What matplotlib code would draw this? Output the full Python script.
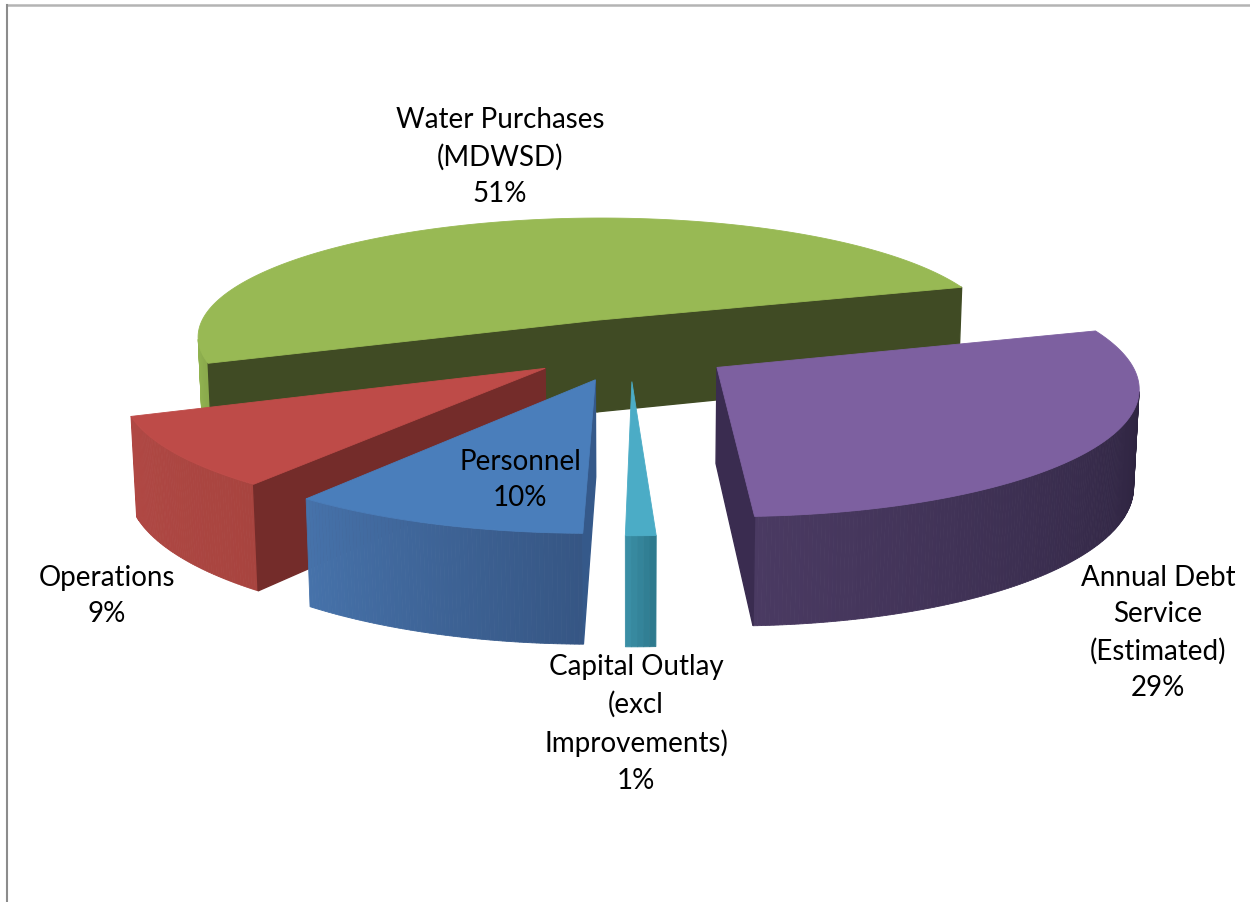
import numpy as np
import matplotlib.pyplot as plt
from matplotlib.patches import Polygon
from matplotlib.lines import Line2D

# ---------------------------------------------------------------------------
# DATA
categories = ["Water Purchases\n(MDWSD)",
              "Annual Debt\nService\n(Estimated)",
              "Capital Outlay\n(excl\nImprovements)",
              "Personnel",
              "Operations"]
shares = [51, 29, 1, 10, 9]

# ---------------------------------------------------------------------------
# STYLE
top_colors = ["#98B954", "#7D60A0", "#4BACC6", "#4A7EBB", "#BE4B48"]
side_colors = [("#93B551", "#8AAA4C"), ("#4A3A62", "#2E2440"),
               ("#3A8EA5", "#2E7A8E"), ("#4672AA", "#365684"),
               ("#B04844", "#A8443F")]
cut_colors = ["#404B24", "#3A2C50", "#2B6F82", "#35598A", "#742C2A"]
label_pos = [(500, 157), (1158, 633), (636, 724), (520, 480), (107, 596)]

first_edge = 200.8      # math angle where the first slice starts (clockwise)
explode = 0.255
elev = np.radians(17.6)
dist = 7.0
scale = 408
cx, cy = 630, 350
depth = 0.245

cam = np.array([0, -dist * np.cos(elev), dist * np.sin(elev)])


def proj(x, y, z):
    yp = y * np.sin(elev) + z * np.cos(elev)
    d = y * np.cos(elev) - z * np.sin(elev)
    s = dist / (dist + d)
    return cx + scale * x * s, cy - scale * yp * s


def facing(normal, point):
    return np.dot(normal, cam - np.asarray(point)) > 0


def mix(c1, c2, t):
    a = np.array(plt.matplotlib.colors.to_rgb(c1))
    b = np.array(plt.matplotlib.colors.to_rgb(c2))
    return tuple(a + (b - a) * t)


fig = plt.figure(figsize=(12.5, 9.03), dpi=100)
ax = fig.add_axes([0, 0, 1, 1])
ax.set_xlim(0, 1250)
ax.set_ylim(903, 0)
ax.axis("off")

# slice angles, clockwise from first_edge
bounds = []
cum = 0
for v in shares:
    hi = first_edge - cum * 3.6
    lo = hi - v * 3.6
    bounds.append((lo, hi))
    cum += v

slices = []
for i, (lo, hi) in enumerate(bounds):
    mid = np.radians((lo + hi) / 2)
    ox, oy = explode * np.cos(mid), explode * np.sin(mid)
    cdep = (oy + 0.5 * np.sin(mid)) * np.cos(elev)
    slices.append((cdep, i, lo, hi, ox, oy))

# back to front
slices.sort(key=lambda s: -s[0])

for cdep, i, lo, hi, ox, oy in slices:
    th = np.radians(np.linspace(lo, hi, max(int(hi - lo) * 2, 4)))
    ax_ = ox + np.cos(th)
    ay_ = oy + np.sin(th)

    # outer curved side, shaded left to right
    vis = []
    for k in range(len(th) - 1):
        tm = (th[k] + th[k + 1]) / 2
        n = np.array([np.cos(tm), np.sin(tm), 0])
        p = np.array([ox + np.cos(tm), oy + np.sin(tm), -depth / 2])
        if facing(n, p):
            vis.append(k)
    if vis:
        k0, k1 = vis[0], vis[-1]
        for k in vis:
            t = (k - k0) / max(k1 - k0, 1)
            col = mix(side_colors[i][0], side_colors[i][1], t)
            pts = [proj(ax_[k], ay_[k], 0), proj(ax_[k + 1], ay_[k + 1], 0),
                   proj(ax_[k + 1], ay_[k + 1], -depth), proj(ax_[k], ay_[k], -depth)]
            ax.add_patch(Polygon(pts, closed=True, facecolor=col,
                                 edgecolor=col, lw=0.6))

    # radial cut faces
    for ang, sign in ((lo, -1), (hi, 1)):
        a = np.radians(ang)
        n = np.array([-sign * np.sin(a), sign * np.cos(a), 0])
        p = np.array([ox + 0.5 * np.cos(a), oy + 0.5 * np.sin(a), -depth / 2])
        if facing(n, p):
            ex, ey = ox + np.cos(a), oy + np.sin(a)
            pts = [proj(ox, oy, 0), proj(ex, ey, 0),
                   proj(ex, ey, -depth), proj(ox, oy, -depth)]
            ax.add_patch(Polygon(pts, closed=True, facecolor=cut_colors[i],
                                 edgecolor=cut_colors[i], lw=1.0))

    # top
    pts = [proj(ox, oy, 0)] + [proj(x, y, 0) for x, y in zip(ax_, ay_)]
    ax.add_patch(Polygon(pts, closed=True, facecolor=top_colors[i],
                         edgecolor=top_colors[i], lw=0.6))

# labels
for name, v, (lx, ly) in zip(categories, shares, label_pos):
    ax.text(lx, ly, "{0}\n{1}%".format(name, v), ha="center", va="center",
            fontsize=20, family="Lato", linespacing=1.5, color="black")

# chart area border
fig.add_artist(Line2D([7 / 1250, 1], [1 - 6 / 903] * 2, transform=fig.transFigure,
                      color="#b4b4b4", lw=1.8))
fig.add_artist(Line2D([7 / 1250] * 2, [0, 1 - 6 / 903], transform=fig.transFigure,
                      color="#8c8c8c", lw=1.5))

plt.savefig("out.png", dpi=100)
plt.close()
